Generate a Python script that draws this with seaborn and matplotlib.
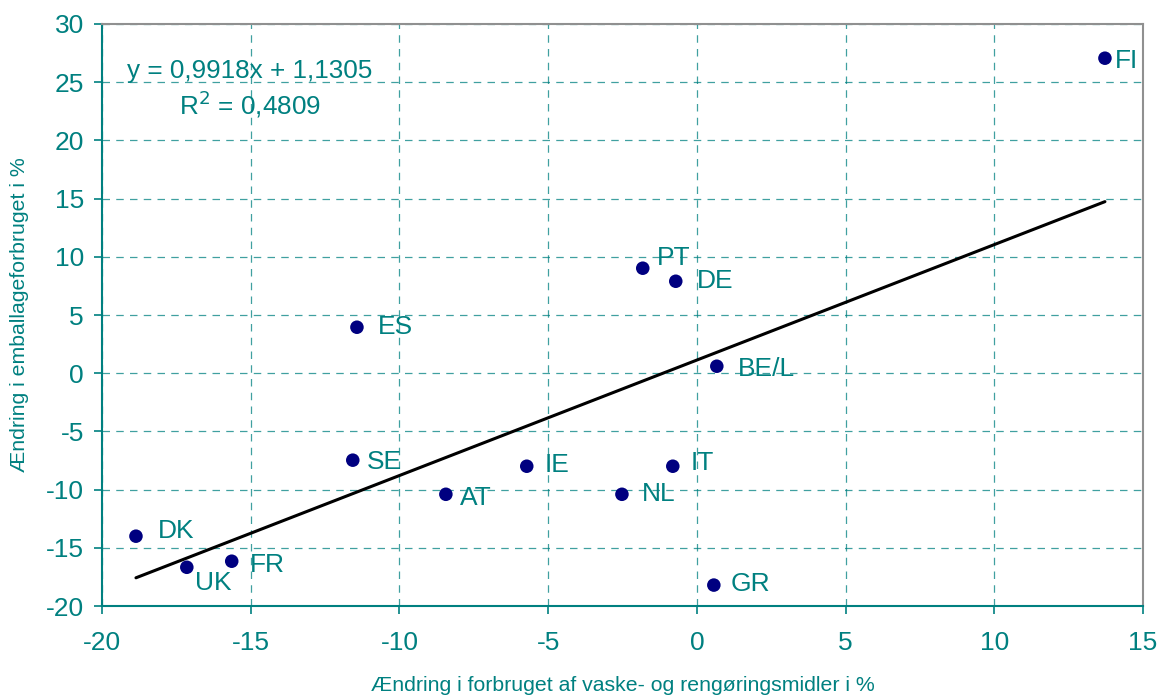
import matplotlib
matplotlib.use("Agg")
import matplotlib.pyplot as plt
import seaborn as sns
import pandas as pd
import numpy as np

countries = ["FI", "PT", "DE", "ES", "BE/L", "SE", "IE", "IT", "AT", "NL", "DK", "FR", "UK", "GR"]
x_vals = [13.72, -1.82, -0.71, -11.43, 0.67, -11.57, -5.72, -0.81, -8.44, -2.52, -18.86, -15.64, -17.15, 0.57]
y_vals = [27.06, 9.02, 7.90, 3.95, 0.60, -7.47, -7.99, -7.99, -10.40, -10.40, -14.00, -16.15, -16.67, -18.20]
slope = 0.9918
intercept = 1.1305
r2 = 0.4809
x_ticks = [-20, -15, -10, -5, 0, 5, 10, 15]
y_ticks = [-20, -15, -10, -5, 0, 5, 10, 15, 20, 25, 30]

# label offsets in points (style only)
label_offsets = {
    "FI": (7, -2), "PT": (10, 7), "DE": (15, 0), "ES": (15, 0), "BE/L": (15, -2),
    "SE": (10, -1), "IE": (13, 1), "IT": (13, 2), "AT": (10, -3), "NL": (14, 0),
    "DK": (16, 4), "FR": (13, -3), "UK": (6, -11), "GR": (12, 1),
}

TEAL = "#008080"
NAVY = "#000080"

sns.set_theme(style="white")
plt.rcParams['font.family'] = ['Liberation Sans', 'DejaVu Sans']
plt.rcParams['axes.unicode_minus'] = False

df = pd.DataFrame({"country": countries, "x": x_vals, "y": y_vals})

fig = plt.figure(figsize=(11.61, 6.95), dpi=100)
ax = fig.add_axes([0.0879, 0.128, 0.8966, 0.8375])

ax.set_xlim(-20, 15)
ax.set_ylim(-20, 30)
ax.set_xticks(x_ticks)
ax.set_yticks(y_ticks)
ax.grid(True, color=TEAL, linestyle=(0, (6, 5)), linewidth=0.9, alpha=0.75)
ax.set_axisbelow(True)

xmin, xmax = min(x_vals), max(x_vals)
ax.plot([xmin, xmax], [slope * xmin + intercept, slope * xmax + intercept],
        color="black", linewidth=2.2, zorder=2)

sns.scatterplot(data=df, x="x", y="y", ax=ax, color=NAVY, s=95, edgecolor="none", zorder=3)

for c, xv, yv in zip(countries, x_vals, y_vals):
    dx, dy = label_offsets[c]
    ax.annotate(c, (xv, yv), xytext=(dx, dy), textcoords="offset points",
                ha="left", va="center", fontsize=19, color=TEAL)

ax.text(-15.03, 26.0, f"y = {slope:.4f}x + {intercept:.4f}".replace(".", ","),
        ha="center", va="center", fontsize=18.8, color=TEAL)
ax.text(-15.03, 23.1, f"R$^2$ = {r2:.4f}".replace(".", ","),
        ha="center", va="center", fontsize=18.8, color=TEAL)

for side in ["left", "bottom"]:
    ax.spines[side].set_color(TEAL)
    ax.spines[side].set_linewidth(1.5)
for side in ["top", "right"]:
    ax.spines[side].set_color("#909090")
    ax.spines[side].set_linewidth(1.5)

ax.tick_params(axis="both", direction="out", length=6, width=1.2, color=TEAL,
               labelcolor=TEAL, labelsize=19, bottom=True, left=True)
ax.tick_params(axis="x", pad=12)
ax.tick_params(axis="y", pad=7)

ax.set_xlabel("Ændring i forbruget af vaske- og rengøringsmidler i %", color=TEAL, fontsize=15.3, labelpad=15)
ax.set_ylabel("Ændring i emballageforbruget i %", color=TEAL, fontsize=15.3, labelpad=12)

fig.savefig("out.png", dpi=100)
